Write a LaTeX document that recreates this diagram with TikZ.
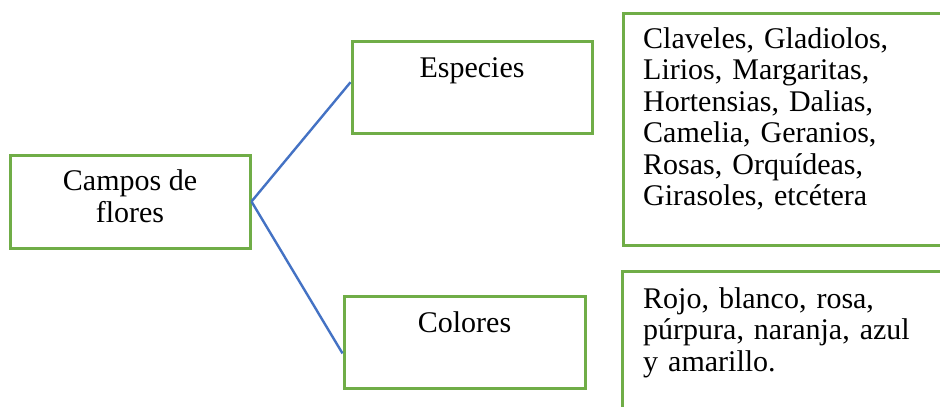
\documentclass[tikz,border=0pt]{standalone}
\usepackage{fontspec}
\setmainfont{Liberation Serif}
\usetikzlibrary{calc}
\definecolor{boxgreen}{HTML}{70AD47}
\definecolor{linkblue}{HTML}{4472C4}
\tikzset{
  box/.style={draw=boxgreen, line width=3pt, rectangle, inner sep=0pt, fill=none},
  txt/.style={inner sep=0pt, font=\fontsize{30}{31.5}\selectfont},
  link/.style={draw=linkblue, line width=2.4pt}
}
\begin{document}
\begin{tikzpicture}[x=1pt,y=-1pt]
\useasboundingbox (0,0) rectangle (940,407);
\clip (0,0) rectangle (940,407);
\fill[white] (0,0) rectangle (940,407);
% boxes
\node[box, minimum width=240pt, minimum height=93pt] (campos) at (130,201.5) {};
\node[box, minimum width=240pt, minimum height=92pt] (especies) at (472,87) {};
\node[box, minimum width=241pt, minimum height=92pt] (colores) at (464.5,342) {};
\node[box, minimum width=330pt, minimum height=232pt] (lista1) at (788,129) {};
\node[box, minimum width=330pt, minimum height=160pt] (lista2) at (787,351) {};
% texts
\node[txt, anchor=base, align=center] (tcampos) at (130,222) {Campos de\\flores};
\node[txt, anchor=base] (tespecies) at (472,77) {Especies};
\node[txt, anchor=base] (tcolores) at (464.5,332) {Colores};
\node[txt, anchor=base west, text width=290pt, align=left] (tlista1) at (643,48)
  {Claveles, Gladiolos,\\Lirios, Margaritas,\\Hortensias, Dalias,\\Camelia, Geranios,\\Rosas, Orquídeas,\\Girasoles, etcétera};
\node[txt, anchor=base west, text width=290pt, align=left] (tlista2) at (643,308)
  {Rojo, blanco, rosa,\\púrpura, naranja, azul\\y amarillo.};
% connectors
\draw[link] (campos.east) -- ($(especies.north west)!0.45!(especies.south west)$);
\draw[link] (campos.east) -- ($(colores.north west)!0.62!(colores.south west)$);
\end{tikzpicture}
\end{document}
